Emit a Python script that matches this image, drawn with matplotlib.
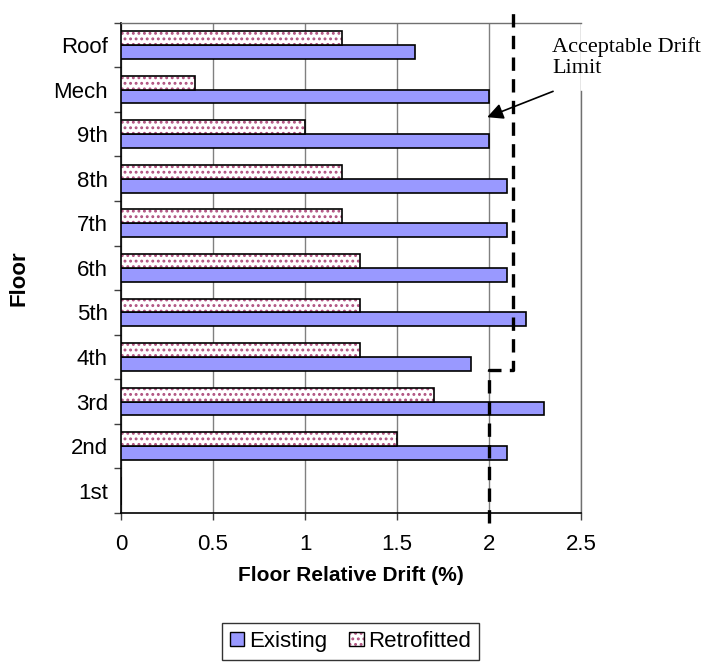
import matplotlib.pyplot as plt
import numpy as np
from matplotlib.patches import Patch
from matplotlib.legend_handler import HandlerTuple

plt.rcParams['font.family'] = ['Liberation Sans', 'DejaVu Sans']
plt.rcParams['hatch.linewidth'] = 1.3

# data, listed bottom to top
floors = ['1st', '2nd', '3rd', '4th', '5th', '6th', '7th', '8th', '9th', 'Mech', 'Roof']
existing = [0, 2.1, 2.3, 1.9, 2.2, 2.1, 2.1, 2.1, 2.0, 2.0, 1.6]
retrofitted = [0, 1.5, 1.7, 1.3, 1.3, 1.3, 1.2, 1.2, 1.0, 0.4, 1.2]

# acceptable drift limit (stepped dashed line)
limit_x = [2.0, 2.0, 2.13, 2.13]
limit_y = [-0.72, 2.70, 2.70, 10.78]

blue = '#9999ff'
dot = '#b0507f'

fig = plt.figure(figsize=(7.03, 6.62), dpi=100)
ax = fig.add_axes([0.1721, 0.2251, 0.6544, 0.7406])

y = np.arange(len(floors))
h = 0.31

ax.barh(y - h / 2, existing, height=h, color=blue, edgecolor='black', linewidth=1.2, zorder=3)
# retrofitted: purple dots, then black outline on top
ax.barh(y + h / 2, retrofitted, height=h, color='white', edgecolor=dot, hatch='...',
        linewidth=0, zorder=3)
ax.barh(y + h / 2, retrofitted, height=h, fill=False, edgecolor='black', linewidth=1.2, zorder=4)

ax.set_xlim(0, 2.5)
ax.set_ylim(-0.5, len(floors) - 0.5)
ax.set_xticks([0, 0.5, 1, 1.5, 2, 2.5])
ax.set_xticklabels(['0', '0.5', '1', '1.5', '2', '2.5'])
ax.set_yticks(y)
ax.set_yticklabels(floors)
ax.set_yticks(np.arange(-0.5, len(floors)), minor=True)
ax.tick_params(axis='y', which='major', length=0, pad=9.5, labelsize=16)
ax.tick_params(axis='y', which='minor', length=5, width=1, color='#404040')
ax.tick_params(axis='x', length=5, width=1, pad=10, labelsize=16, color='#404040')

ax.grid(axis='x', color='#808080', linewidth=1, zorder=0)
ax.set_axisbelow(True)
for s in ['left', 'bottom']:
    ax.spines[s].set_color('black')
    ax.spines[s].set_linewidth(1.2)
for s in ['top', 'right']:
    ax.spines[s].set_color('#707070')
    ax.spines[s].set_linewidth(1)
# the label box hides the upper part of the right border
ax.spines['right'].set_bounds(-0.5, 8.97)

ax.set_xlabel('Floor Relative Drift (%)', fontsize=15, fontweight='bold', va='center')
ax.xaxis.set_label_coords(0.5, -0.1285)
ax.set_ylabel('Floor', fontsize=16, fontweight='bold', va='center')
ax.yaxis.set_label_coords(-0.222, 0.479)

ax.plot(limit_x, limit_y, color='black', linewidth=2.4, dashes=(4, 2.5),
        clip_on=False, zorder=6)

ax.text(2.343, 10.175, 'Acceptable Drift\nLimit', family='Liberation Serif', fontsize=16,
        va='top', ha='left', linespacing=1.13, zorder=7, clip_on=False)
ax.annotate('', xy=(1.99, 8.38), xytext=(2.348, 8.96),
            arrowprops=dict(arrowstyle='-|>', mutation_scale=24, lw=1.2, color='black',
                            shrinkA=0, shrinkB=0),
            zorder=8, annotation_clip=False)

h1 = Patch(facecolor=blue, edgecolor='black', linewidth=1)
h2a = Patch(facecolor='white', edgecolor=dot, hatch='...', linewidth=0)
h2b = Patch(fill=False, edgecolor='black', linewidth=1)
leg = fig.legend([h1, (h2a, h2b)], ['Existing', 'Retrofitted'], ncol=2,
                 loc='upper center', bbox_to_anchor=(0.4986, 0.0589), fontsize=16,
                 handlelength=0.65, handleheight=0.65, handletextpad=0.2, columnspacing=1.0,
                 fancybox=False, edgecolor='black', borderpad=0.35, borderaxespad=0,
                 handler_map={tuple: HandlerTuple(ndivide=1, pad=0)})
leg.get_frame().set_linewidth(1)

fig.savefig('out.png', dpi=100)
